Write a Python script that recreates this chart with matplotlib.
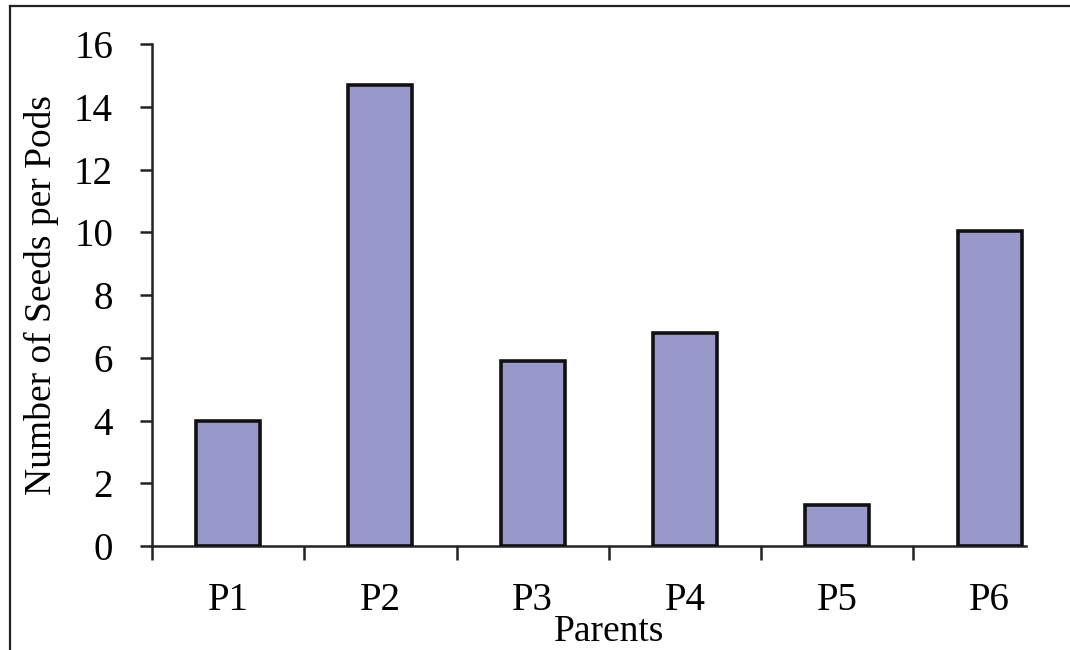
import matplotlib
matplotlib.use('Agg')
import matplotlib.pyplot as plt
from matplotlib.lines import Line2D

padres = ['P1', 'P2', 'P3', 'P4', 'P5', 'P6']
semillas = [4.0, 14.7, 5.9, 6.8, 1.3, 10.05]
marcas_y = [0, 2, 4, 6, 8, 10, 12, 14, 16]

plt.rcParams['font.family'] = ['Liberation Serif', 'DejaVu Serif']

fig = plt.figure(figsize=(10.7, 6.5), dpi=100)
ax = fig.add_axes([0.142, 0.16, 0.854, 0.772])

pos = list(range(len(padres)))
ax.bar(pos, semillas, width=0.42, color='#9898CA', edgecolor='#111111', linewidth=2.6, zorder=3)

ax.set_xlim(-0.5, 5.5)
ax.set_ylim(0, 16)
ax.set_yticks(marcas_y)
ax.set_yticklabels([str(v) for v in marcas_y], fontsize=28)

# ticks between categories, labels at centers
ax.set_xticks([p - 0.5 for p in pos])
ax.set_xticklabels([])
ax.set_xticks(pos, minor=True)
ax.set_xticklabels(padres, minor=True, fontsize=28)
ax.tick_params(axis='x', which='major', direction='out', length=10, width=1.8, color='#222222')
ax.tick_params(axis='x', which='minor', length=0, pad=26)
ax.tick_params(axis='y', direction='out', length=9, width=1.8, color='#222222', pad=19)

for lado in ['top', 'right']:
    ax.spines[lado].set_visible(False)
for lado in ['left', 'bottom']:
    ax.spines[lado].set_linewidth(1.8)
    ax.spines[lado].set_color('#222222')
ax.spines['bottom'].set_bounds(-0.5, 5.24)

ax.set_ylabel('Number of Seeds per Pods', fontsize=27, labelpad=11)
ax.set_xlabel('Parents', fontsize=27, labelpad=-3)

# marco de la figura
fig.add_artist(Line2D([10/1070, 10/1070], [0, 1 - 6/650], transform=fig.transFigure, color='#222222', lw=1.6))
fig.add_artist(Line2D([10/1070, 1], [1 - 6/650, 1 - 6/650], transform=fig.transFigure, color='#222222', lw=1.6))

fig.savefig('out.png', dpi=100)
